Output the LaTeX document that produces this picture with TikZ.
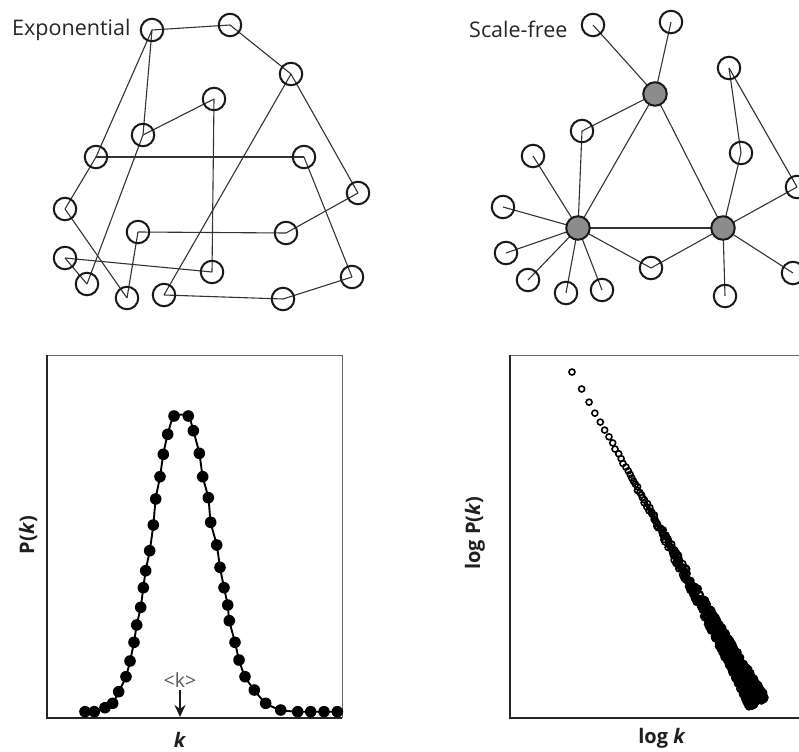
\documentclass[tikz,border=0pt]{standalone}
\usepackage{fontspec}
\setmainfont{Open Sans}
\usetikzlibrary{arrows.meta,backgrounds}
\begin{document}
\begin{tikzpicture}[x=1pt,y=-1pt,
  vtx/.style={circle,draw=black!90,line width=2pt,minimum size=22.5pt,inner sep=0pt},
  hub/.style={circle,draw=black!90,fill=black!45,line width=2pt,minimum size=23.5pt,inner sep=0pt},
  edge/.style={draw=black!80,line width=1.1pt},
  title/.style={text=black!85,font=\fontsize{21.5}{23}\selectfont,anchor=west,inner sep=0pt},
  axlabel/.style={text=black!88,font=\fontsize{20}{22}\selectfont\bfseries,inner sep=0pt},
  thickax/.style={draw=black!85,line width=2.8pt},
  thinax/.style={draw=black!60,line width=0.9pt},
  dot/.style={fill=black},
  scat/.style={draw=black,line width=1.6pt}]
\useasboundingbox (0,0) rectangle (799,751);

% ---------------- Exponential network ----------------
\node[title] (t1) at (12,30) {Exponential};
\node[vtx] (A) at (152,30) {};
\node[vtx] (B) at (230,25) {};
\node[vtx] (C) at (291,74) {};
\node[vtx] (D) at (214,99) {};
\node[vtx] (E) at (143,135) {};
\node[vtx] (F) at (96,157) {};
\node[vtx] (G) at (304,157) {};
\node[vtx] (H) at (358,193) {};
\node[vtx] (I) at (65,209) {};
\node[vtx] (J) at (138,232) {};
\node[vtx] (K) at (286,233) {};
\node[vtx] (L) at (65,258) {};
\node[vtx] (M) at (212,272) {};
\node[vtx] (N) at (87,284) {};
\node[vtx] (O) at (127,298) {};
\node[vtx] (P) at (164,295) {};
\node[vtx] (Q) at (283,299) {};
\node[vtx] (R) at (352,277) {};
\begin{scope}[on background layer]
\foreach \a/\b in {A/B,B/C,A/F,A/E,E/D,D/M,E/N,F/I,F/G,C/H,C/P,G/R,H/K,K/J,J/O,I/O,L/M,L/N,P/Q,Q/R}
  \draw[edge] (\a.center) -- (\b.center);
\end{scope}

% ---------------- Scale-free network ----------------
\node[title] (t2) at (469,29) {Scale-free};
\node[vtx] (sa) at (593,25) {};
\node[vtx] (sb) at (671,22) {};
\node[vtx] (sc) at (729,68) {};
\node[vtx] (sd) at (582,131) {};
\node[vtx] (se) at (533,156) {};
\node[vtx] (sf) at (741,153) {};
\node[vtx] (sg) at (797,187) {};
\node[vtx] (sh) at (503,207) {};
\node[vtx] (si) at (506,253) {};
\node[vtx] (sj) at (528,280) {};
\node[vtx] (sk) at (566,293) {};
\node[vtx] (sl) at (602,290) {};
\node[vtx] (sm) at (651,268) {};
\node[vtx] (sn) at (725,296) {};
\node[vtx] (so) at (793,273) {};
\node[hub] (h1) at (655,94) {};
\node[hub] (h2) at (578,228) {};
\node[hub] (h3) at (723,228) {};
\begin{scope}[on background layer]
\foreach \a/\b in {sa/h1,sb/h1,h1/sd,h1/h2,h1/h3,sd/h2,se/h2,sh/h2,si/h2,sj/h2,sk/h2,sl/h2,h2/sm,h2/h3,sm/h3,h3/sf,sf/sc,sc/sg,h3/sg,h3/so,h3/sn}
  \draw[edge] (\a.center) -- (\b.center);
\end{scope}

% ---------------- Poisson plot ----------------
\draw[thinax] (47,355) -- (342,355) -- (342,718);
\draw[thickax] (47,355) -- (47,718) -- (342,718);
\node[axlabel,rotate=90] (yl1) at (28,535) {P(\textit{k})};
\node[axlabel] (xl1) at (180,740) {\textit{k}};
\node[text=black!65,font=\fontsize{19.5}{21}\selectfont,inner sep=0pt] (mk) at (180,680) {<k>};
\coordinate (mkarrow) at (180,717);
\draw[black!90,line width=2.2pt,-{Stealth[length=12pt,width=11pt]}] (180,690) -- (mkarrow);

\draw[black,line width=1.9pt] plot[smooth,tension=0.4] coordinates {(85,711.7) (94.3,711.7) (105,707.7) (112.7,703.3) (118.7,691.7) (126,676.7) (130,661) (134,642.3) (136.7,625) (140.7,607.3) (143.3,587.7) (145.7,570.7) (149.7,550.7) (153.3,525) (155.7,499) (160,476.7) (163.3,454.3) (167.7,434.3) (174,416) (188.3,416) (193.3,430.7) (199.3,453.3) (202.7,476.7) (208.3,497.7) (210.7,522.3) (216.7,545) (220,567.3) (224,587.7) (227.7,605) (229.3,620.7) (235,642.3) (239,660) (245,676.7) (254.3,690) (265.7,703.3) (280.7,710) (297.7,711.7) (310.7,711.7) (324,711.7) (337.3,711.7)};
\foreach \p in {(85,711.7),(94.3,711.7),(105,707.7),(112.7,703.3),(118.7,691.7),(126,676.7),(130,661),(134,642.3),(136.7,625),(140.7,607.3),(143.3,587.7),(145.7,570.7),(149.7,550.7),(153.3,525),(155.7,499),(160,476.7),(163.3,454.3),(167.7,434.3),(174,416),(188.3,416),(193.3,430.7),(199.3,453.3),(202.7,476.7),(208.3,497.7),(210.7,522.3),(216.7,545),(220,567.3),(224,587.7),(227.7,605),(229.3,620.7),(235,642.3),(239,660),(245,676.7),(254.3,690),(265.7,703.3),(280.7,710),(297.7,711.7),(310.7,711.7),(324,711.7),(337.3,711.7)}
  \fill[dot] \p circle[radius=5.8];

% ---------------- Power-law plot ----------------
\draw[thinax] (510,355) -- (799,355);
\draw[thickax] (510,355) -- (510,718) -- (799,718);
\node[axlabel,rotate=90] (yl2) at (475,533) {log P(\textit{k})};
\node[axlabel] (xl2) at (662,738) {log \textit{k}};
\pgfmathsetseed{7}
\foreach \i in {0,...,799}{
  \pgfmathsetmacro\t{ln(1+\i/3)/ln(267.67)}
  \pgfmathsetmacro\n{rand*(0.4+6.5*\t*\t+3.5*\t*\t*\t)}
  \pgfmathsetmacro\xx{572+186*\t+\n*0.874}
  \pgfmathsetmacro\yy{372+331*\t-\n*0.486}
  \draw[scat] (\xx,\yy) circle[radius=3];
}
\end{tikzpicture}
\end{document}
